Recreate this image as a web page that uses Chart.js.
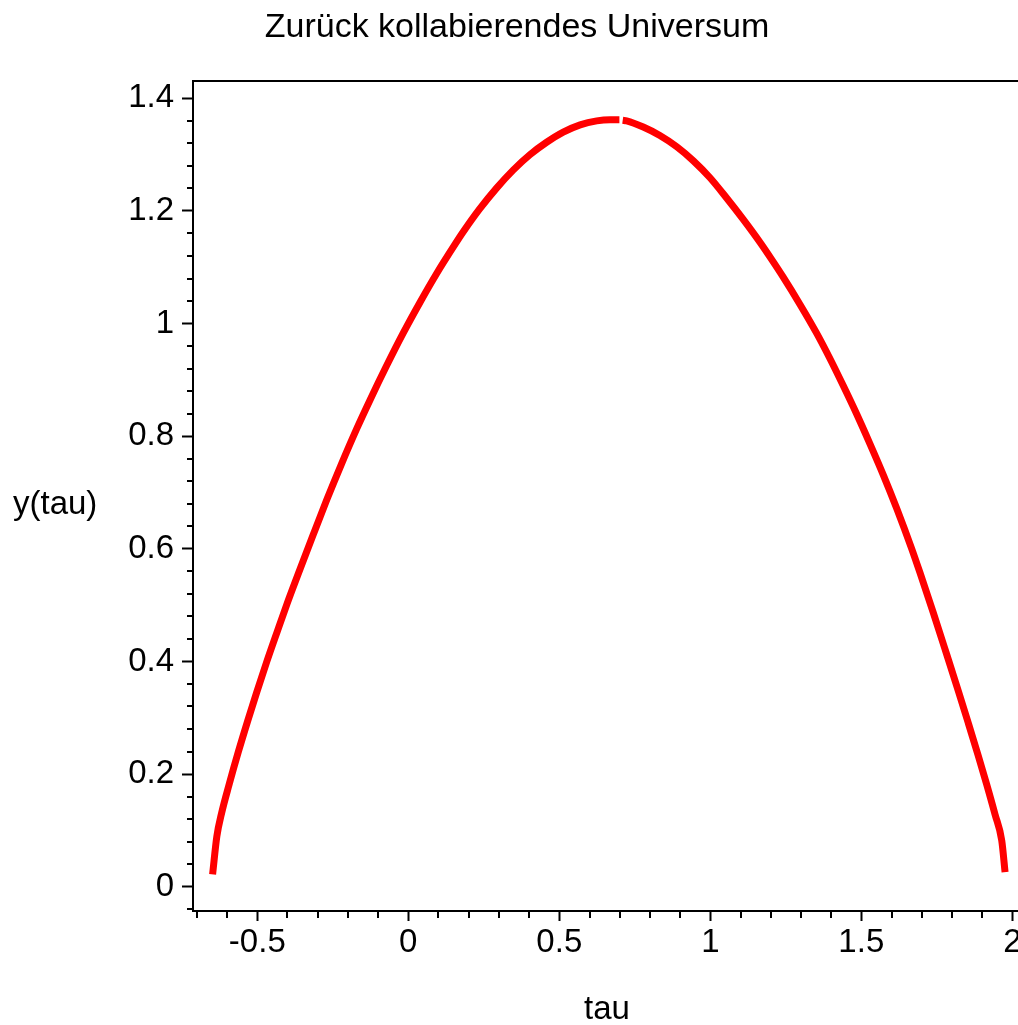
<!DOCTYPE html>
<html>
<head>
<meta charset="utf-8">
<script src="https://cdn.jsdelivr.net/npm/chart.js@4/dist/chart.umd.min.js"></script>
<style>
  html, body { margin: 0; padding: 0; background: #fff; width: 1018px; height: 1025px; overflow: hidden; }
  canvas { display: block; }
</style>
</head>
<body>
<canvas id="c" width="1060" height="1025"></canvas>
<script>
// Expanding branch of y(tau)
const tauRise = [-0.648, -0.634, -0.618, -0.593, -0.563, -0.532, -0.502, -0.469, -0.434, -0.401,
                 -0.364, -0.315, -0.270, -0.221, -0.171, -0.127, -0.072, -0.017, 0.039, 0.094,
                 0.155, 0.182, 0.237, 0.293, 0.348, 0.403, 0.458, 0.513, 0.569, 0.624, 0.668, 0.699];
const yRise   = [0.022, 0.089, 0.131, 0.182, 0.239, 0.294, 0.345, 0.399, 0.453, 0.503,
                 0.556, 0.625, 0.687, 0.751, 0.813, 0.864, 0.925, 0.983, 1.038, 1.089,
                 1.141, 1.163, 1.204, 1.241, 1.273, 1.300, 1.322, 1.340, 1.353, 1.360, 1.362, 1.362];

// Collapsing branch of y(tau)
const tauFall = [0.710, 0.723, 0.778, 0.833, 0.889, 0.944, 0.999, 1.054, 1.109, 1.165,
                 1.203, 1.242, 1.297, 1.352, 1.396, 1.440, 1.485, 1.529, 1.573, 1.617,
                 1.667, 1.694, 1.738, 1.783, 1.821, 1.854, 1.887, 1.915, 1.943, 1.965, 1.976];
const yFall   = [1.361, 1.360, 1.349, 1.334, 1.314, 1.289, 1.259, 1.223, 1.185, 1.144,
                 1.114, 1.082, 1.034, 0.983, 0.938, 0.890, 0.839, 0.786, 0.731, 0.672,
                 0.600, 0.558, 0.487, 0.412, 0.348, 0.291, 0.233, 0.182, 0.128, 0.082, 0.026];

// Axis ticks
const xMajorTicks = [-0.5, 0, 0.5, 1, 1.5, 2];
const xMinorTicks = [-0.7, -0.6, -0.4, -0.3, -0.2, -0.1, 0.1, 0.2, 0.3, 0.4, 0.6, 0.7, 0.8, 0.9,
                     1.1, 1.2, 1.3, 1.4, 1.6, 1.7, 1.8, 1.9];
const yMajorTicks = [0, 0.2, 0.4, 0.6, 0.8, 1, 1.2, 1.4];
const yMinorTicks = [-0.04, 0.04, 0.08, 0.12, 0.16, 0.24, 0.28, 0.32, 0.36, 0.44, 0.48, 0.52, 0.56,
                     0.64, 0.68, 0.72, 0.76, 0.84, 0.88, 0.92, 0.96, 1.04, 1.08, 1.12, 1.16,
                     1.24, 1.28, 1.32, 1.36];

const X_MIN = -0.7129, X_MAX = 2.0917;
const Y_MIN = -0.0432, Y_MAX = 1.4308;

const FAMILY = '"Liberation Sans", Arial, sans-serif';
const FONT = { family: FAMILY, size: 33 };
const fmt = v => String(Math.round(v * 10) / 10);

const toPoints = (xs, ys) => xs.map((x, i) => ({ x, y: ys[i] }));

const frameAndLabels = {
  id: 'frameAndLabels',
  afterDraw(chart) {
    const { ctx, chartArea: a, scales } = chart;
    ctx.save();
    ctx.strokeStyle = '#000';
    ctx.lineWidth = 2;
    // box: top and right edges
    ctx.beginPath();
    ctx.moveTo(a.left, a.top);
    ctx.lineTo(a.right, a.top);
    ctx.lineTo(a.right, a.bottom);
    ctx.stroke();
    // minor ticks
    ctx.beginPath();
    yMinorTicks.forEach(v => {
      const py = Math.round(scales.y.getPixelForValue(v));
      ctx.moveTo(a.left - 6, py);
      ctx.lineTo(a.left, py);
    });
    xMinorTicks.forEach(v => {
      const px = Math.round(scales.x.getPixelForValue(v));
      ctx.moveTo(px, a.bottom);
      ctx.lineTo(px, a.bottom + 7);
    });
    ctx.stroke();
    // texts
    ctx.fillStyle = '#000';
    ctx.textBaseline = 'middle';
    ctx.textAlign = 'center';
    ctx.font = `34px ${FAMILY}`;
    ctx.fillText('Zurück kollabierendes Universum', 517, 28);
    ctx.font = `${FONT.size}px ${FAMILY}`;
    ctx.fillText('tau', 607, 1010);
    ctx.textAlign = 'left';
    ctx.fillText('y(tau)', 13, 505);
    ctx.restore();
  }
};

const lineStyle = {
  showLine: true, borderColor: '#ff0000', borderWidth: 7, pointRadius: 0,
  cubicInterpolationMode: 'monotone', borderCapStyle: 'butt', borderJoinStyle: 'round'
};

new Chart(document.getElementById('c'), {
  type: 'scatter',
  data: {
    datasets: [
      { data: toPoints(tauRise, yRise), ...lineStyle },
      { data: toPoints(tauFall, yFall), ...lineStyle }
    ]
  },
  options: {
    responsive: false,
    animation: false,
    events: [],
    layout: { padding: { top: 81, right: 20, bottom: 0, left: 0 } },
    plugins: { legend: { display: false }, title: { display: false }, tooltip: { enabled: false } },
    scales: {
      x: {
        type: 'linear', position: 'bottom', min: X_MIN, max: X_MAX,
        afterBuildTicks: s => { s.ticks = xMajorTicks.map(v => ({ value: v })); },
        afterFit: s => { s.height = 114; },
        ticks: { callback: v => fmt(v), font: FONT, color: '#000', padding: 2, maxRotation: 0, autoSkip: false },
        grid: { drawOnChartArea: false, drawTicks: true, tickLength: 10, tickWidth: 2, tickColor: '#000' },
        border: { display: true, color: '#000', width: 2 }
      },
      y: {
        type: 'linear', position: 'left', min: Y_MIN, max: Y_MAX,
        afterBuildTicks: s => { s.ticks = yMajorTicks.map(v => ({ value: v })); },
        afterFit: s => { s.width = 193; },
        ticks: { callback: v => fmt(v), font: FONT, color: '#000', padding: 8, autoSkip: false },
        grid: { drawOnChartArea: false, drawTicks: true, tickLength: 11, tickWidth: 2, tickColor: '#000' },
        border: { display: true, color: '#000', width: 2 }
      }
    }
  },
  plugins: [frameAndLabels]
});
</script>
</body>
</html>
